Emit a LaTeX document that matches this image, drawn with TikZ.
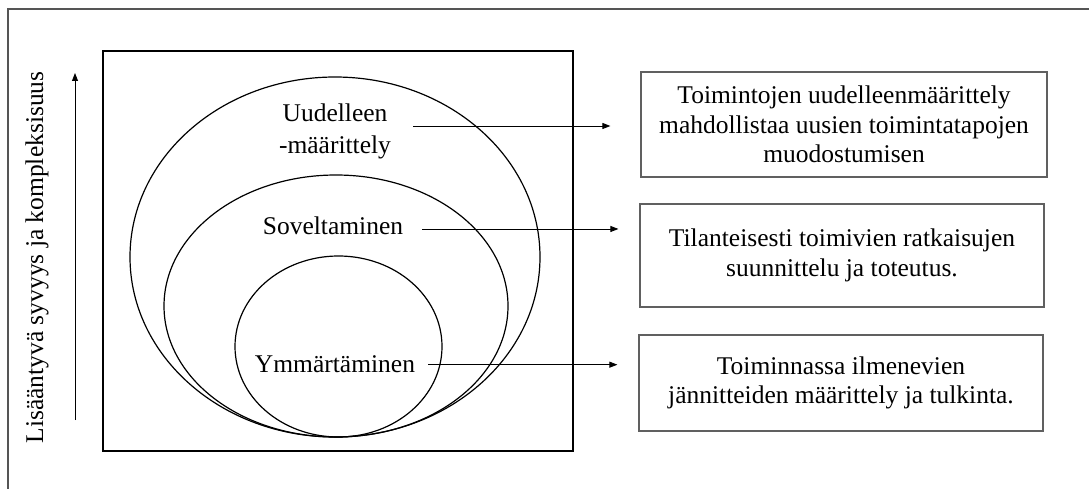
\documentclass[tikz,border=0pt]{standalone}
\usepackage{fontspec}
\setmainfont{Liberation Serif}
\usetikzlibrary{arrows.meta}
\definecolor{framegray}{HTML}{555555}
\definecolor{boxgray}{HTML}{606060}
\tikzset{
  txt/.style={font=\fontsize{25.5}{29.5}\selectfont, inner sep=0pt},
  infobox/.style={draw=boxgray, line width=1.2pt, align=center, inner sep=0pt,
    font=\fontsize{25.5}{29.5}\selectfont},
  arr/.style={-{Triangle[length=8pt,width=6pt]}, line width=0.9pt},
  ring/.style={line width=1.2pt},
}
\begin{document}
\begin{tikzpicture}[x=1pt,y=-1pt]
\useasboundingbox (0,0) rectangle (1089,489);
% outer frame (only left and top edges visible)
\draw[framegray, line width=1.3pt] (8,489) -- (8,9) -- (1089,9);
% inner square
\draw[line width=1.4pt] (103,51) rectangle (573,451);
% nested ellipses
\draw[ring] (335,257) ellipse [x radius=205pt, y radius=180pt];
\draw[ring] (336,306) ellipse [x radius=172pt, y radius=131pt];
\draw[ring] (338.5,346.5) ellipse [x radius=103.5pt, y radius=90.5pt];
% labels in ellipses
\node[txt, align=center, font=\fontsize{25.5}{32}\selectfont] (u) at (335,131) {Uudelleen\\-määrittely};
\node[txt, anchor=base] (s) at (333,234) {Soveltaminen};
\node[txt, anchor=base] (y) at (335,372) {Ymmärtäminen};
% boxes
\node[infobox, minimum width=406pt, minimum height=105pt] (b1) at (844,124.5)
  {Toimintojen uudelleenmäärittely\\mahdollistaa uusien toimintatapojen\\muodostumisen};
\node[infobox, minimum width=404pt, minimum height=103pt] (b2) at (842,255.5)
  {Tilanteisesti toimivien ratkaisujen\\suunnittelu ja toteutus.};
\node[infobox, minimum width=404pt, minimum height=96pt] (b3) at (841,383)
  {Toiminnassa ilmenevien\\jännitteiden määrittely ja tulkinta.};
% arrows
\draw[arr, shorten >=30pt] ([xshift=22pt,yshift=5pt]u.east) -- ([yshift=5pt]u.east -| b1.west);
\draw[arr, shorten >=21pt] ([xshift=19pt,yshift=-3.7pt]s.east) -- ([yshift=-3.7pt]s.east -| b2.west);
\draw[arr, shorten >=21pt] ([xshift=13pt,yshift=-1pt]y.east) -- ([yshift=-1pt]y.east -| b3.west);
% vertical axis
\node[txt, rotate=90] (lab) at (37,257.5) {Lisääntyvä syvyys ja kompleksisuus};
\coordinate (abot) at (75,420);
\coordinate (atop) at (75,73);
\draw[arr] (abot) -- (atop);
\end{tikzpicture}
\end{document}
